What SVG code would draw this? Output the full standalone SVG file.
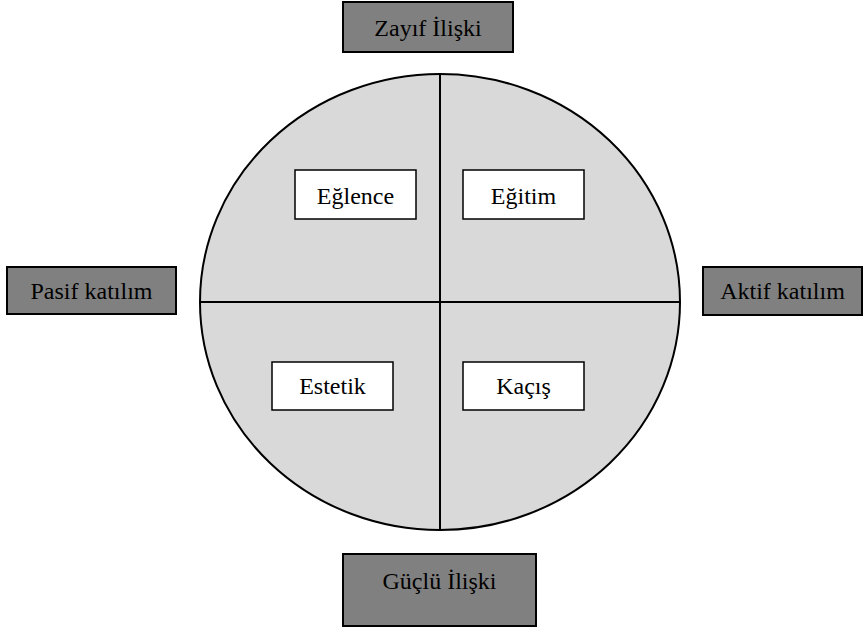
<svg xmlns="http://www.w3.org/2000/svg" width="863" height="632" viewBox="0 0 863 632">
<style>
.dark{fill:#808080;stroke:#000;stroke-width:2}
.light{fill:#fff;stroke:#000;stroke-width:1.5}
.t{font-family:"Liberation Serif","Times New Roman",serif;font-size:24px;fill:#000;text-anchor:middle}
.ln{stroke:#000;stroke-width:2;fill:none}
</style>
<rect width="863" height="632" fill="#fff"/>
<g id="circle">
<ellipse cx="440" cy="302" rx="240" ry="228" fill="#d9d9d9" stroke="#000" stroke-width="2"/>
</g>
<g id="connectors">
<line class="ln" x1="440" y1="74" x2="440" y2="530"/>
<line class="ln" x1="200" y1="302" x2="680" y2="302"/>
</g>
<g id="zayif"><rect class="dark" x="343" y="2" width="170" height="50"/><text class="t" x="428" y="36">Zayıf İlişki</text></g>
<g id="guclu"><rect class="dark" x="343" y="554" width="193" height="72"/><text class="t" x="439.5" y="589">Güçlü İlişki</text></g>
<g id="pasif"><rect class="dark" x="7" y="267" width="169" height="47"/><text class="t" x="91.5" y="299">Pasif katılım</text></g>
<g id="aktif"><rect class="dark" x="703" y="267" width="159" height="48"/><text class="t" x="782.5" y="299">Aktif katılım</text></g>
<g id="eglence"><rect class="light" x="295" y="170" width="121" height="49"/><text class="t" x="355.5" y="204">Eğlence</text></g>
<g id="egitim"><rect class="light" x="463" y="170" width="121" height="49"/><text class="t" x="523.5" y="204">Eğitim</text></g>
<g id="estetik"><rect class="light" x="272" y="362" width="121" height="48"/><text class="t" x="332.5" y="394">Estetik</text></g>
<g id="kacis"><rect class="light" x="463" y="362" width="121" height="48"/><text class="t" x="523.5" y="394">Kaçış</text></g>
</svg>
